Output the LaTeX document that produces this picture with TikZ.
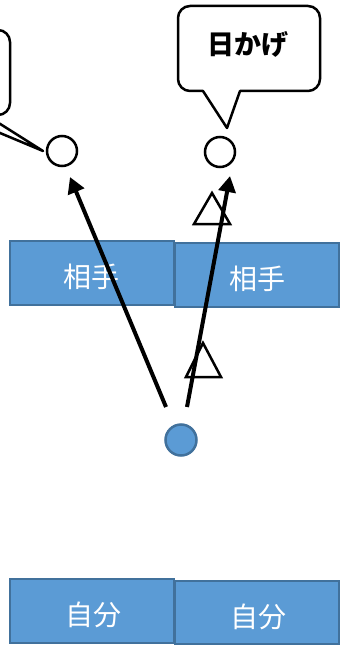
\documentclass[tikz,border=0pt]{standalone}
\usepackage{fontspec}
\newfontfamily\jp{Noto Sans CJK JP}
\usetikzlibrary{arrows.meta}
\definecolor{boxfill}{HTML}{5B9BD5}
\definecolor{boxline}{HTML}{41719C}
\tikzset{
  px/.style={x=1pt,y=-1pt},
  bluebox/.style={draw=boxline,fill=boxfill,line width=2.5pt},
  boxlabel/.style={text=white,font=\jp\fontsize{28}{28}\selectfont,inner sep=0pt},
  ring/.style={circle,draw=black,line width=2.5pt,fill=white,minimum size=30pt,inner sep=0pt},
  dot/.style={circle,draw=boxline,line width=2.5pt,fill=boxfill,minimum size=31pt,inner sep=0pt},
  bubble/.style={draw=black,line width=2.5pt,fill=white,line join=round},
  marker/.style={draw=black,line width=2.5pt,fill=white,line join=miter},
  move/.style={draw=black,line width=4pt,-{Triangle[length=16pt,width=17pt]}},
}
\begin{document}
\begin{tikzpicture}[px]
\useasboundingbox (0,0) rectangle (345,652);

% speech bubbles
\draw[bubble] (43,151) -- (-14,115) [rounded corners=12pt] -- (10,115) -- (10,30) -- (-120,30) -- (-120,115) [sharp corners] -- (-43,115) -- cycle;
\draw[bubble] (227,128) -- (203,91) [rounded corners=12pt] -- (178,91) -- (178,6) -- (320,6) -- (320,91) [sharp corners] -- (240,91) -- cycle;
\node[font=\jp\bfseries\fontsize{27}{27}\selectfont,inner sep=0pt] (shade) at (248,44) {日かげ};

% target points
\node[ring] (tl) at (62,151) {};
\node[ring] (tr) at (220,152) {};

% opponent row
\draw[bluebox] (10,241) rectangle (174,305);
\draw[bluebox] (175,243) rectangle (339,307);
\node[boxlabel] (opL) at (91,277) {相手};
\node[boxlabel] (opR) at (257,279) {相手};

% own row
\draw[bluebox] (10,579) rectangle (174,643);
\draw[bluebox] (175,581) rectangle (339,644);
\node[boxlabel] (meL) at (93,615) {自分};
\node[boxlabel] (meR) at (258,617) {自分};

% ball
\node[dot] (ball) at (181,440) {};

% open triangles along the right path
\draw[marker] (212,193) -- (230,224) -- (194,224) -- cycle;
\draw[marker] (203,343) -- (221,377) -- (186,377) -- cycle;

% shots
\coordinate (s1) at (166,407);
\coordinate (e1) at (70,177);
\coordinate (s2) at (187,407);
\coordinate (e2) at (230,176);
\draw[move] (s1) -- (e1);
\draw[move] (s2) -- (e2);
\end{tikzpicture}
\end{document}
